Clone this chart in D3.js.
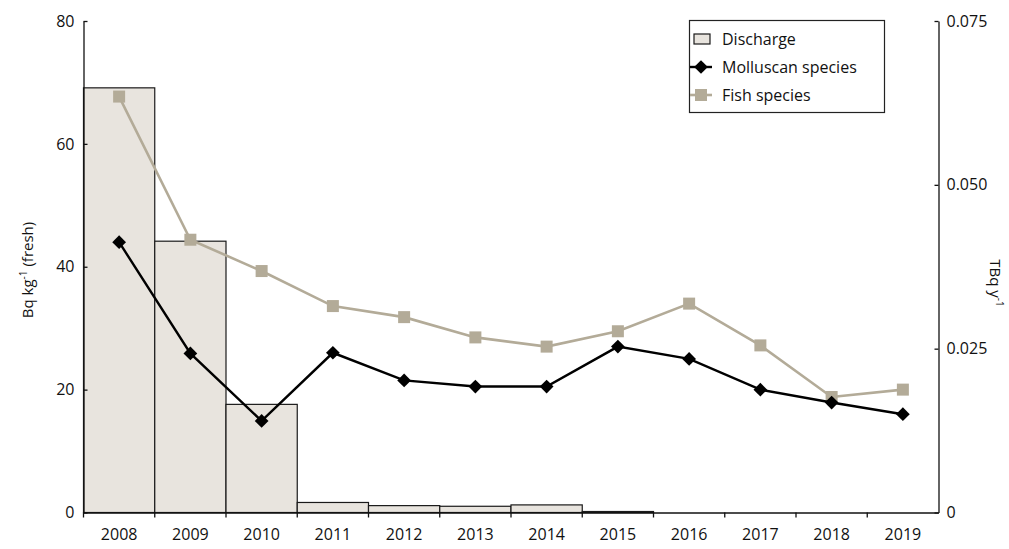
<!DOCTYPE html>
<html><head><meta charset="utf-8">
<script src="https://cdn.jsdelivr.net/npm/d3@7"></script>
<style>
body{margin:0;background:#fff;}
svg text{font-family:"Open Sans","Noto Sans",sans-serif;fill:#111;}
</style></head>
<body><svg id="c" width="1009" height="549"></svg>
<script>
const years = ["2008","2009","2010","2011","2012","2013","2014","2015","2016","2017","2018","2019"];
const discharge = [0.0648,0.0414,0.0165,0.00153,0.00105,0.00095,0.00116,0.00015,0,0,0,0];
const molluscan = [44.0,25.9,14.9,26.0,21.5,20.5,20.5,27.0,25.0,20.0,17.9,16.0];
const fish = [67.7,44.4,39.3,33.6,31.8,28.5,27.0,29.5,34.0,27.2,18.8,20.0];
const leftTicks = [0,20,40,60,80];
const rightTicks = [0,0.025,0.05,0.075];
const rightTickLabels = ["0","0.025","0.050","0.075"];
const legendLabels = ["Discharge","Molluscan species","Fish species"];

const svg = d3.select("#c");
const x0 = 83.5, x1 = 938.5, yTop = 21, yBot = 512.5;
const x = d3.scaleBand().domain(years).range([x0,x1]).padding(0);
const yL = d3.scaleLinear().domain([0,80]).range([yBot,yTop]);
const yR = d3.scaleLinear().domain([0,0.075]).range([yBot,yTop]);

const barFill = "#e8e4de", fishCol = "#b3ab98";

// bars
svg.append("g").selectAll("rect").data(years.map((y,i)=>({y,v:discharge[i]})).filter(d=>d.v>0))
  .join("rect")
  .attr("x",d=>x(d.y)).attr("width",x.bandwidth())
  .attr("y",d=>yR(d.v)).attr("height",d=>Math.max(1,yBot-yR(d.v)))
  .attr("fill",barFill).attr("stroke","#1a1a1a").attr("stroke-width",1.2);

// left axis
const gL = svg.append("g").attr("transform",`translate(${x0},0)`)
  .call(d3.axisLeft(yL).tickValues(leftTicks).tickSizeInner(-4).tickSizeOuter(0).tickPadding(9));
gL.selectAll("text").attr("font-size",16);
// right axis
const gR = svg.append("g").attr("transform",`translate(${x1},0)`)
  .call(d3.axisRight(yR).tickValues(rightTicks).tickFormat((d,i)=>rightTickLabels[i]).tickSizeInner(-4).tickSizeOuter(0).tickPadding(8));
gR.selectAll("text").attr("font-size",16);
// bottom axis
const gB = svg.append("g").attr("transform",`translate(0,${yBot})`)
  .call(d3.axisBottom(x).tickSize(0).tickPadding(16));
gB.selectAll("text").attr("font-size",16);
gB.selectAll(".tick line").remove();
gB.selectAll(".bt").data(years).join("line")
  .attr("x1",d=>x(d)).attr("x2",d=>x(d)).attr("y1",0).attr("y2",5).attr("stroke","#111");
[gL,gR,gB].forEach(g=>{g.selectAll("path,line").attr("stroke","#111").attr("stroke-width",1.3);});

// lines
const line = d3.line().x((d,i)=>x(years[i])+x.bandwidth()/2);
svg.append("path").datum(fish).attr("d",line.y(d=>yL(d))).attr("fill","none")
  .attr("stroke",fishCol).attr("stroke-width",2.6);
svg.append("g").selectAll("rect").data(fish).join("rect")
  .attr("x",(d,i)=>x(years[i])+x.bandwidth()/2-6).attr("y",d=>yL(d)-6)
  .attr("width",12).attr("height",12).attr("fill",fishCol);
svg.append("path").datum(molluscan).attr("d",line.y(d=>yL(d))).attr("fill","none")
  .attr("stroke","#000").attr("stroke-width",2.4);
const diamond = d3.symbol().type(d3.symbolDiamond2).size(120);
svg.append("g").selectAll("path").data(molluscan).join("path")
  .attr("d",diamond)
  .attr("transform",(d,i)=>`translate(${x(years[i])+x.bandwidth()/2},${yL(d)})`)
  .attr("fill","#000");

// axis titles
const lt = svg.append("text").attr("transform","translate(33,270) rotate(-90)")
  .attr("text-anchor","middle").attr("font-size",15).text("Bq kg");
lt.append("tspan").attr("font-size",10).attr("dy",-6).text("-1");
lt.append("tspan").attr("dy",6).attr("font-size",15).text(" (fresh)");

const rt = svg.append("text").attr("transform","translate(990,283) rotate(90)")
  .attr("text-anchor","middle").attr("font-size",15).text("TBq y");
rt.append("tspan").attr("font-size",10).attr("dy",-6).text("-1");

// legend
const lg = svg.append("g");
lg.append("rect").attr("x",689.5).attr("y",20.5).attr("width",195).attr("height",92)
  .attr("fill","#fff").attr("stroke","#222").attr("stroke-width",1.2);
const ly = [39,67,95];
lg.append("rect").attr("x",694).attr("y",ly[0]-5).attr("width",16).attr("height",10)
  .attr("fill",barFill).attr("stroke","#1a1a1a").attr("stroke-width",1.2);
lg.append("line").attr("x1",690).attr("x2",712).attr("y1",ly[1]).attr("y2",ly[1]).attr("stroke","#000").attr("stroke-width",2.4);
lg.append("path").attr("d",diamond).attr("transform",`translate(701,${ly[1]})`).attr("fill","#000");
lg.append("line").attr("x1",690).attr("x2",712).attr("y1",ly[2]).attr("y2",ly[2]).attr("stroke",fishCol).attr("stroke-width",2.6);
lg.append("rect").attr("x",695).attr("y",ly[2]-6).attr("width",12).attr("height",12).attr("fill",fishCol);
lg.selectAll("text.l").data(legendLabels).join("text").attr("class","l")
  .attr("x",722).attr("y",(d,i)=>ly[i]).attr("dy","0.35em").attr("font-size",16).text(d=>d);
</script></body></html>
